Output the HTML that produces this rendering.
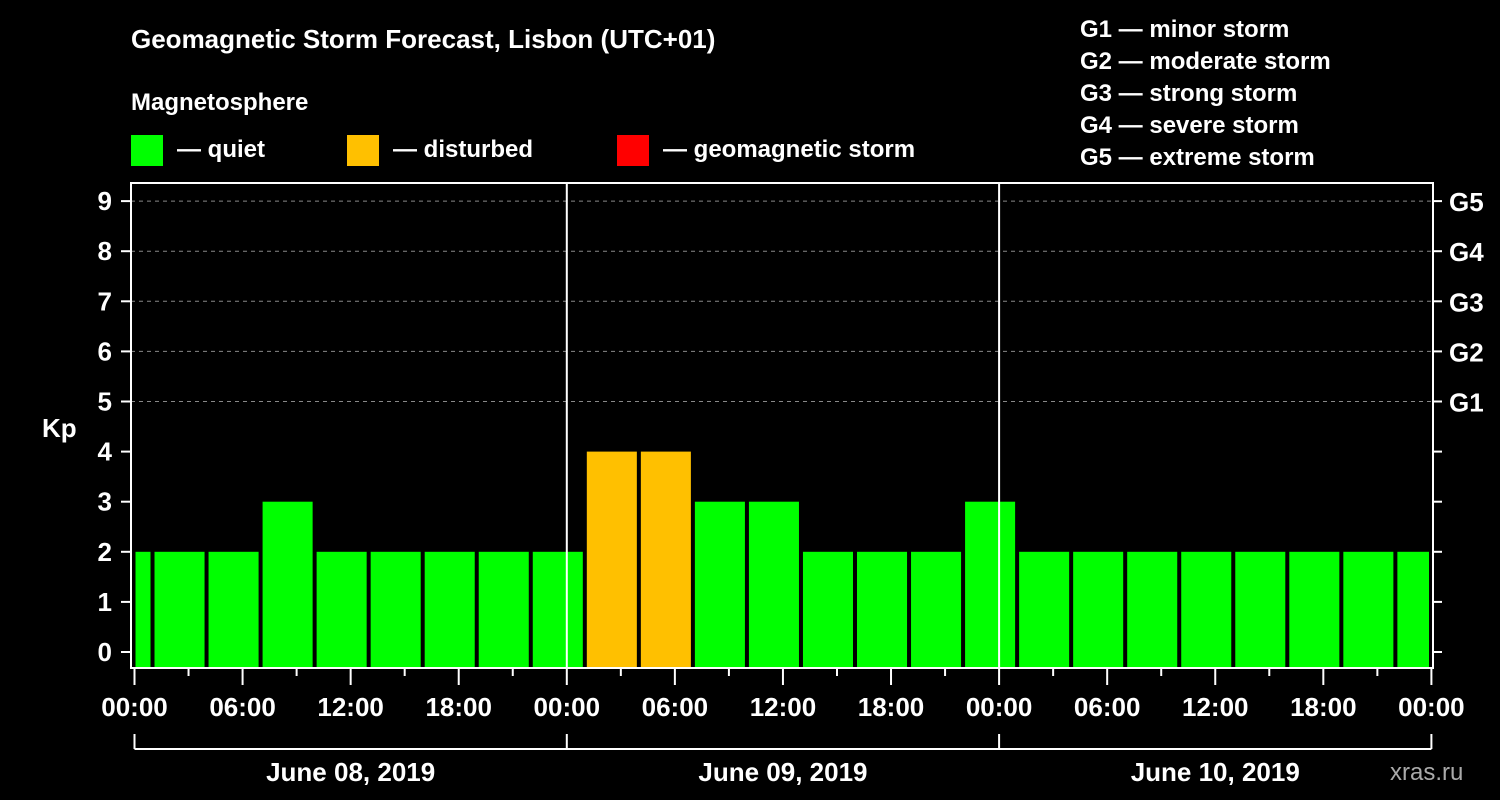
<!DOCTYPE html>
<html><head><meta charset="utf-8"><style>
html,body{margin:0;padding:0;background:#000;width:1500px;height:800px;overflow:hidden}
svg text{font-family:"Liberation Sans",Arial,sans-serif;font-weight:bold;fill:#fff}
</style></head><body>
<svg id="chart" width="1500" height="800" xmlns="http://www.w3.org/2000/svg">
<text x="131" y="48" font-size="26">Geomagnetic Storm Forecast, Lisbon (UTC+01)</text>
<text x="131" y="110" font-size="24">Magnetosphere</text>
<g><rect x="131" y="135" width="32" height="31" fill="#00ff00"/><text x="177" y="157" font-size="24">— quiet</text></g>
<g><rect x="347" y="135" width="32" height="31" fill="#ffc000"/><text x="393" y="157" font-size="24">— disturbed</text></g>
<g><rect x="617" y="135" width="32" height="31" fill="#ff0000"/><text x="663" y="157" font-size="24">— geomagnetic storm</text></g>
<g font-size="24">
<text x="1080" y="37">G1 — minor storm</text>
<text x="1080" y="69">G2 — moderate storm</text>
<text x="1080" y="101">G3 — strong storm</text>
<text x="1080" y="133">G4 — severe storm</text>
<text x="1080" y="165">G5 — extreme storm</text>
</g>
<text x="42" y="437" font-size="26">Kp</text>
<text x="1390" y="780" font-size="24" fill="#aaa" style="fill:#aaa;font-weight:normal">xras.ru</text>
<g id="plot"></g>
</svg>
<script>
const kpValues = [2,2,2,3,2,2,2,2,2, 4,4,3,3,2,2,2,3, 2,2,2,2,2,2,2,2];
const kpLevels = [0,1,2,3,4,5,6,7,8,9];
const stormLabels = ["G1","G2","G3","G4","G5"];
const timeLabels = ["00:00","06:00","12:00","18:00","00:00","06:00","12:00","18:00","00:00","06:00","12:00","18:00","00:00"];
const dayLabels = ["June 08, 2019","June 09, 2019","June 10, 2019"];
const firstSlotHour = -2; // local time of first 3h UTC slot start

const NS="http://www.w3.org/2000/svg";
const g=document.getElementById('plot');
const X0=134.5, HW=432.3/24, TOTAL=72;
const xs=h=>X0+h*HW;
const ys=v=>652-v*50.1;
const L=131,R=1433,T=183,B=668;
function mk(tag,attrs,parent){const e=document.createElementNS(NS,tag);for(const k in attrs)e.setAttribute(k,attrs[k]);(parent||g).appendChild(e);return e;}

// grid dashed lines for G levels
stormLabels.forEach((s,i)=>{
  const y=ys(5+i);
  const ln=mk('line',{x1:L,x2:R,y1:y,y2:y,stroke:'#888','stroke-dasharray':'4,4','stroke-width':1});
  
  
  const t=mk('text',{x:1449,y:y+10,'font-size':26});
  t.textContent=s;
  
  
});
// bars
kpValues.forEach((v,i)=>{
  const h0=firstSlotHour+3*i;
  let x1=xs(h0)+2, x2=xs(h0+3)-2;
  x1=Math.max(x1,L+4.5); x2=Math.min(x2,R-4);
  const col=v>=5?'#ff0000':(v>=4?'#ffc000':'#00ff00');
  const r=mk('rect',{x:x1,y:ys(v),width:x2-x1,height:B-ys(v),fill:col});
  
  
});
// day separators
for(let d=1;d<3;d++){
  const x=xs(24*d);
  const ln=mk('line',{x1:x,x2:x,y1:T,y2:B,stroke:'#fff','stroke-width':2});
  
  
}
// frame
const fr=mk('rect',{x:L,y:T,width:R-L,height:B-T,fill:'none',stroke:'#fff','stroke-width':2});


// y ticks + labels
kpLevels.forEach(v=>{
  const y=ys(v);
  mk('line',{x1:121,x2:L,y1:y,y2:y,stroke:'#fff','stroke-width':2});
  mk('line',{x1:R,x2:1442,y1:y,y2:y,stroke:'#fff','stroke-width':2});
  const t=mk('text',{x:112,y:y+9,'font-size':26,'text-anchor':'end'});
  t.textContent=v;
  
  
});
// x ticks
for(let h=0;h<=TOTAL;h+=3){
  const x=xs(h);
  const major=h%6===0;
  mk('line',{x1:x,x2:x,y1:B,y2:B+(major?17:8),stroke:'#fff','stroke-width':2});
}
timeLabels.forEach((s,i)=>{
  const t=mk('text',{x:xs(i*6),y:716,'font-size':26,'text-anchor':'middle'});
  t.textContent=s;
  
  
});
// day bracket
const br=mk('line',{x1:xs(0),x2:xs(72),y1:749,y2:749,stroke:'#fff','stroke-width':2});


for(let d=0;d<=3;d++){const x=xs(24*d);mk('line',{x1:x,x2:x,y1:734,y2:749,stroke:'#fff','stroke-width':2});}
dayLabels.forEach((s,i)=>{
  const t=mk('text',{x:xs(24*i+12),y:781,'font-size':26,'text-anchor':'middle'});
  t.textContent=s;
  
  
});
</script>
</body></html>
